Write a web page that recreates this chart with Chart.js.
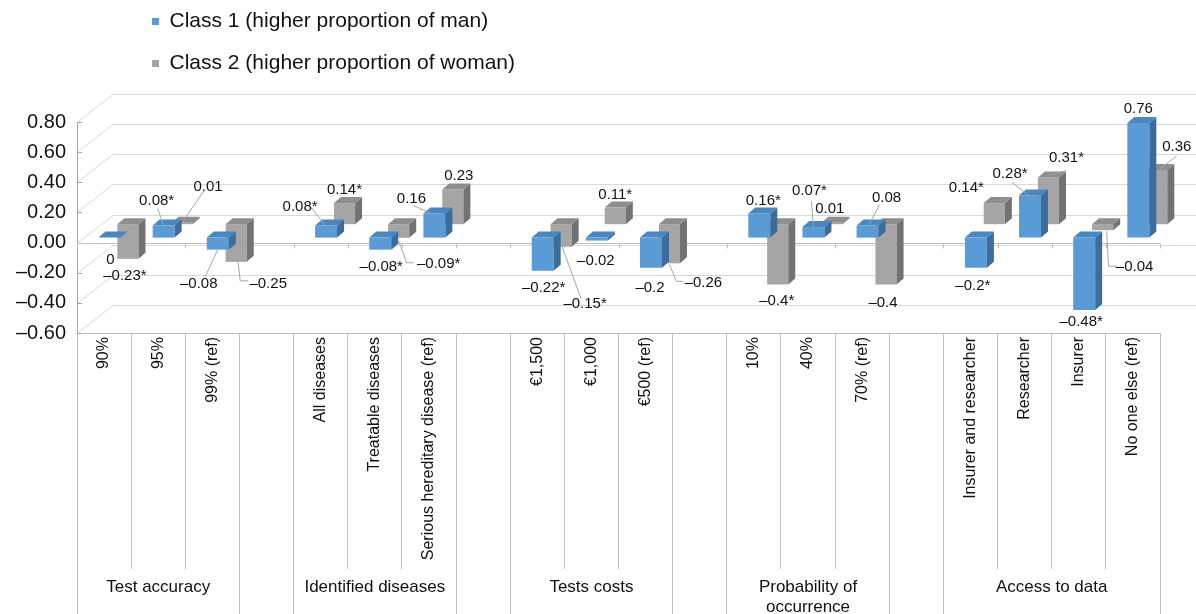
<!DOCTYPE html>
<html>
<head>
<meta charset="utf-8">
<script src="https://cdn.jsdelivr.net/npm/chart.js@4.4.1/dist/chart.umd.min.js"></script>
<style>
  html, body { margin: 0; padding: 0; background: #ffffff; }
  #wrap { width: 1196px; height: 614px; }
</style>
</head>
<body>
<div id="wrap"><canvas id="c" width="1196" height="614"></canvas></div>
<script>
// ---------------- data ----------------
const categories = ['90%', '95%', '99% (ref)', '',
  'All diseases', 'Treatable diseases', 'Serious hereditary disease (ref)', '',
  '€1,500', '€1,000', '€500 (ref)', '',
  '10%', '40%', '70% (ref)', '',
  'Insurer and researcher', 'Researcher', 'Insurer', 'No one else (ref)'];
const groupNames = ['Test accuracy', 'Identified diseases', 'Tests costs', ['Probability of', 'occurrence'], 'Access to data'];
const groupSpans = [[0, 2], [4, 6], [8, 10], [12, 14], [16, 19]];
const class1 = [0, 0.08, -0.08, null, 0.08, -0.08, 0.16, null, -0.22, -0.02, -0.2, null, 0.16, 0.07, 0.08, null, -0.2, 0.28, -0.48, 0.76];
const class2 = [-0.23, 0.01, -0.25, null, 0.14, -0.09, 0.23, null, -0.15, 0.11, -0.26, null, -0.4, 0.01, -0.4, null, 0.14, 0.31, -0.04, 0.36];
const class1Sig = [false, true, false, null, true, true, false, null, true, false, false, null, true, true, false, null, true, true, true, false];
const class2Sig = [true, false, false, null, true, true, false, null, true, true, false, null, true, false, false, null, true, true, false, false];
const seriesNames = ['Class 1 (higher proportion of man)', 'Class 2 (higher proportion of woman)'];
const yMin = -0.6, yMax = 0.8, yStep = 0.2;

// ---------------- layout / style (not data) ----------------
// label offsets relative to bar value end: [dx, dy, leader polyline]
const labelPos1 = {
  0: [1, 22], 1: [-7, -25, [[-6, -17], [0, 0]]], 2: [-19, 34, [[-13, 28], [0, 0]]],
  4: [-26, -19, [[-15, -18], [0, 1]]], 5: [1, 17], 6: [-23, -15, [[-21, -8], [-1, 1]]],
  8: [1, 17], 9: [-1, 20], 10: [-1, 20],
  12: [4, -13], 13: [-4, -36, [[-2, -26], [0, 0]]], 14: [19, -28, [[12, -21], [1, 0]]],
  16: [-3, 18], 17: [-20, -22, [[-18, -13], [0, 1]]], 18: [-3, 12], 19: [0, -14]
};
const labelPos2 = {
  0: [-3, 17], 1: [26, -36, [[22, -32], [0, 0]]], 2: [32, 22, [[12, 19], [4, 19], [1, -8]]],
  4: [0, -13], 5: [40, 26, [[15, 25], [8, 25], [0, 3]]], 6: [6, -14],
  8: [24, 57, [[20, 52], [0, -3]]], 9: [0, -13], 10: [34, 19, [[14, 18], [7, 18], [0, 1]]],
  12: [-1, 16], 13: [-2, -14], 14: [-3, 18],
  16: [-28, -15], 17: [18, -20, [[18, -7], [1, -2]]], 18: [32, 37, [[14, 36], [6, 36], [4, 1]]], 19: [20, -23, [[20, -14], [3, -1]]]
};
const COLORS = {
  blue: { front: '#5B9BD5', side: '#3B6C9C', top: '#4A86C0' },
  gray: { front: '#A5A5A5', side: '#727272', top: '#8E8E8E' }
};
const WALL = { dx: 36, dy: -28 };
const DEPTH = { dx: 7, dy: -6 };
const FONT = "'Liberation Sans', Arial, sans-serif";

function fmtVal(v, sig) {
  if (v === 0) return '0';
  return (v < 0 ? '\u2013' : '') + String(Math.abs(v)) + (sig ? '*' : '');
}
function fmtTick(v) {
  if (Math.abs(v) < 1e-9) return '0.00';
  return (v < 0 ? '\u2013' : '') + Math.abs(v).toFixed(2);
}
function toPoints(arr) {
  const out = [];
  arr.forEach((v, i) => { if (v !== null) out.push({ x: i, y: v }); });
  return out;
}
const groupBounds = [];
groupSpans.forEach(([s, e]) => { groupBounds.push(s); groupBounds.push(e + 1); });
const groupCenters = groupSpans.map(([s, e]) => (s + e) / 2);

Chart.defaults.font.family = FONT;
Chart.defaults.color = '#111111';

const sigs = [class1Sig, class2Sig];
const poss = [labelPos1, labelPos2];
const faceCols = [COLORS.blue, COLORS.gray];

const frame3d = {
  id: 'frame3d',
  afterLayout(chart) {
    const lg = chart.legend;
    if (lg) { lg.left = 131; lg.right = 131 + 520; lg.top = -10; }
  },
  beforeDatasetsDraw(chart) {
    const { ctx, chartArea: a, scales: { x, y } } = chart;
    ctx.save();
    ctx.lineWidth = 1;
    ctx.strokeStyle = '#D9D9D9';
    y.ticks.forEach(t => {
      const py = Math.round(y.getPixelForValue(t.value)) + 0.5;
      ctx.beginPath();
      ctx.moveTo(a.left, py);
      ctx.lineTo(a.left + WALL.dx, py + WALL.dy);
      ctx.lineTo(a.right + WALL.dx, py + WALL.dy);
      ctx.stroke();
    });
    ctx.strokeStyle = '#A6A6A6';
    y.ticks.forEach(t => {
      const py = Math.round(y.getPixelForValue(t.value)) + 0.5;
      ctx.beginPath();
      ctx.moveTo(a.left, py);
      ctx.lineTo(a.left + 5, py);
      ctx.stroke();
    });
    const p0 = Math.round(y.getPixelForValue(0)) + 0.5;
    ctx.strokeStyle = '#BFBFBF';
    ctx.beginPath();
    ctx.moveTo(a.left, p0);
    ctx.lineTo(a.right, p0);
    const half = (x.getPixelForValue(1) - x.getPixelForValue(0)) / 2;
    for (let i = 0; i <= categories.length; i++) {
      const bx = Math.round(x.getPixelForValue(i) - half) + 0.5;
      ctx.moveTo(bx, p0);
      ctx.lineTo(bx, p0 + 5);
    }
    ctx.stroke();
    ctx.restore();
  },
  afterDatasetDraw(chart, args) {
    const ctx = chart.ctx;
    const col = faceCols[args.index];
    ctx.save();
    args.meta.data.forEach(el => {
      const { x, y, base, width } = el.getProps(['x', 'y', 'base', 'width'], true);
      const l = x - width / 2, r = x + width / 2;
      const t = Math.min(y, base), b = Math.max(y, base);
      ctx.fillStyle = col.side;
      ctx.beginPath();
      ctx.moveTo(r, t); ctx.lineTo(r + DEPTH.dx, t + DEPTH.dy);
      ctx.lineTo(r + DEPTH.dx, b + DEPTH.dy); ctx.lineTo(r, b);
      ctx.closePath(); ctx.fill();
      ctx.fillStyle = col.top;
      ctx.beginPath();
      ctx.moveTo(l, t); ctx.lineTo(l + DEPTH.dx, t + DEPTH.dy);
      ctx.lineTo(r + DEPTH.dx, t + DEPTH.dy); ctx.lineTo(r, t);
      ctx.closePath(); ctx.fill();
    });
    ctx.restore();
  },
  afterDatasetsDraw(chart) {
    const ctx = chart.ctx;
    ctx.save();
    ctx.font = '15px ' + FONT;
    ctx.textAlign = 'center';
    ctx.textBaseline = 'middle';
    chart.data.datasets.forEach((ds, d) => {
      const meta = chart.getDatasetMeta(d);
      meta.data.forEach((el, k) => {
        const pt = ds.data[k];
        const i = pt.x;
        const pos = poss[d][i];
        if (!pos) return;
        const { x, y } = el.getProps(['x', 'y'], true);
        if (pos[2]) {
          ctx.strokeStyle = '#A6A6A6';
          ctx.lineWidth = 1;
          ctx.beginPath();
          pos[2].forEach((p, j) => {
            if (j === 0) ctx.moveTo(x + p[0], y + p[1]); else ctx.lineTo(x + p[0], y + p[1]);
          });
          ctx.stroke();
        }
        ctx.fillStyle = '#111111';
        ctx.fillText(fmtVal(pt.y, sigs[d][i]), x + pos[0], y + pos[1]);
      });
    });
    ctx.restore();
  }
};

new Chart(document.getElementById('c'), {
  type: 'bar',
  data: {
    labels: categories,
    datasets: [
      { label: seriesNames[0], data: toPoints(class1), xAxisID: 'xB', yAxisID: 'yB',
        backgroundColor: COLORS.blue.front, borderWidth: 0, grouped: false, clip: false,
        categoryPercentage: 1, barPercentage: 0.406 },
      { label: seriesNames[1], data: toPoints(class2), xAxisID: 'xG', yAxisID: 'yG',
        backgroundColor: COLORS.gray.front, borderWidth: 0, grouped: false, clip: false,
        categoryPercentage: 1, barPercentage: 0.39 }
    ]
  },
  options: {
    responsive: false,
    animation: false,
    devicePixelRatio: 1,
    layout: { padding: { top: 70, right: 36, left: 0, bottom: 0 } },
    plugins: {
      legend: {
        position: 'top', align: 'start',
        labels: { boxWidth: 7, boxHeight: 7, padding: 21, font: { size: 21 }, color: '#111111' }
      },
      tooltip: { enabled: false }
    },
    scales: {
      x: {
        type: 'category', position: 'bottom', offset: true, weight: 0,
        grid: {
          offset: true, drawOnChartArea: false, drawTicks: true, tickLength: 281,
          tickColor: '#BFBFBF', tickWidth: 1,
          tickBorderDash: (c) => (c.index === undefined || groupBounds.includes(c.index)) ? [] : [235, 400]
        },
        border: { display: true, color: '#BFBFBF' },
        ticks: { autoSkip: false, minRotation: 90, maxRotation: 90, padding: -277, font: { size: 16 }, color: '#111111' },
        afterFit: (s) => { s.height = 244; }
      },
      xg: {
        type: 'linear', position: 'bottom', weight: 1, min: -0.5, max: 19.5, bounds: 'data', offset: false,
        grid: { display: false, drawTicks: false },
        border: { display: false },
        afterBuildTicks: (s) => { s.ticks = groupCenters.map(v => ({ value: v })); },
        ticks: { autoSkip: false, minRotation: 0, maxRotation: 0, padding: 0, font: { size: 17 }, color: '#111111',
          callback: (v, i) => groupNames[i] },
        afterFit: (s) => { s.height = 37; }
      },
      xB: { type: 'linear', display: false, min: -0.5 - 0.1, max: 19.5 - 0.1, bounds: 'data', offset: false, grid: { offset: false } },
      xG: { type: 'linear', display: false, min: -0.5 - 0.44, max: 19.5 - 0.44, bounds: 'data', offset: false, grid: { offset: false } },
      y: {
        type: 'linear', position: 'left', min: yMin, max: yMax,
        ticks: { stepSize: yStep, padding: 11, font: { size: 20 }, color: '#111111', callback: (v) => fmtTick(v) },
        grid: { drawOnChartArea: false, drawTicks: false },
        border: { display: true, color: '#A6A6A6' },
        afterFit: (s) => { s.width = 77; }
      },
      yB: { type: 'linear', display: false, min: yMin - 0.033, max: yMax - 0.033, bounds: 'data' },
      yG: { type: 'linear', display: false, min: yMin - 0.122, max: yMax - 0.122, bounds: 'data' }
    }
  },
  plugins: [frame3d]
});
</script>
</body>
</html>
